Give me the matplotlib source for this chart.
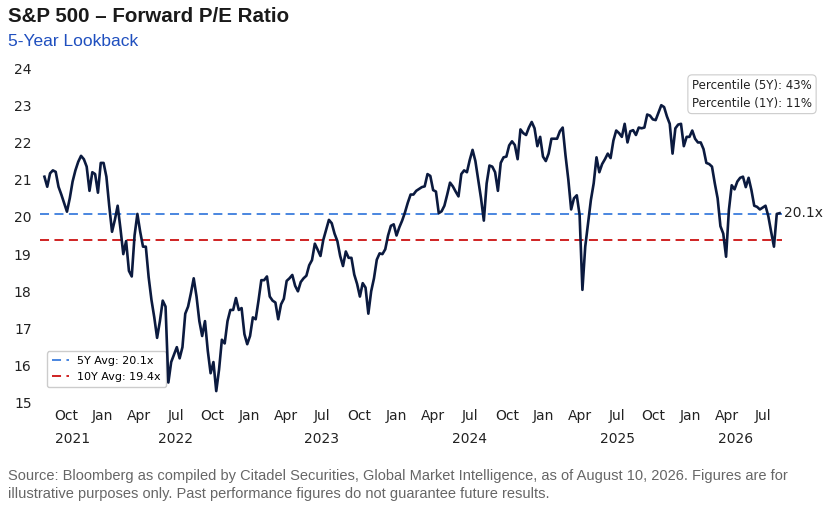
import matplotlib
matplotlib.use("Agg")
import matplotlib.pyplot as plt
import matplotlib.dates as mdates
import matplotlib.transforms as mtransforms
import numpy as np
import pandas as pd

# ---- data (weekly forward P/E) ----
pe_values = [
    21.08, 20.81, 21.17, 21.25, 21.21, 20.81, 20.60, 20.37, 20.14, 20.50,
    20.95, 21.25, 21.48, 21.64, 21.55, 21.35, 20.70, 21.20, 21.15, 20.65,
    21.45, 21.45, 21.08, 20.30, 19.60, 19.92, 20.30, 19.68, 19.00, 19.35,
    18.55, 18.40, 19.50, 20.08, 19.60, 19.20, 19.20, 18.38, 17.77, 17.30,
    16.75, 17.20, 17.75, 17.59, 15.55, 16.10, 16.30, 16.50, 16.20, 16.50,
    17.40, 17.59, 17.95, 18.35, 17.86, 17.20, 16.80, 17.20, 16.40, 15.80,
    16.10, 15.32, 15.90, 16.70, 16.60, 17.20, 17.50, 17.50, 17.82, 17.50,
    17.55, 16.85, 16.58, 16.80, 17.30, 17.25, 17.75, 18.30, 18.30, 18.40,
    17.86, 17.75, 17.70, 17.25, 17.65, 17.80, 18.28, 18.35, 18.44, 18.15,
    18.00, 18.25, 18.35, 18.42, 18.70, 18.84, 19.28, 19.12, 18.95, 19.38,
    19.65, 19.92, 19.83, 19.55, 19.35, 18.95, 18.68, 19.07, 18.90, 18.90,
    18.45, 18.20, 17.86, 18.22, 18.10, 17.40, 18.00, 18.35, 18.85, 19.02,
    19.00, 19.13, 19.50, 19.76, 19.80, 19.50, 19.72, 19.90, 20.12, 20.38,
    20.60, 20.60, 20.70, 20.75, 20.80, 20.82, 21.15, 21.10, 20.72, 20.68,
    20.10, 20.15, 20.30, 20.60, 20.92, 20.82, 20.68, 20.55, 21.15, 21.25,
    21.20, 21.53, 21.80, 21.50, 20.99, 20.50, 19.90, 20.90, 21.38, 21.35,
    21.20, 20.70, 21.45, 21.60, 21.62, 21.92, 22.03, 21.93, 21.55, 22.35,
    22.25, 22.20, 22.40, 22.55, 22.38, 21.90, 22.15, 21.62, 21.50, 21.70,
    22.10, 22.10, 22.10, 22.30, 22.40, 21.65, 21.00, 20.20, 20.50, 20.58,
    20.05, 18.04, 19.20, 19.83, 20.45, 20.90, 21.60, 21.20, 21.42, 21.55,
    21.70, 21.58, 22.05, 22.32, 22.25, 22.15, 22.50, 22.00, 22.30, 22.33,
    22.20, 22.40, 22.38, 22.40, 22.75, 22.72, 22.62, 22.60, 22.80, 23.00,
    22.95, 22.70, 22.50, 21.70, 22.38, 22.48, 22.50, 21.90, 22.15, 22.15,
    22.32, 22.10, 22.00, 22.00, 21.82, 21.45, 21.42, 21.35, 20.90, 20.50,
    19.75, 19.55, 18.93, 20.18, 20.85, 20.74, 20.95, 21.05, 21.08, 20.80,
    21.05, 20.72, 20.30, 20.27, 20.20, 20.25, 20.30, 20.02, 19.60, 19.20,
    20.08, 20.10,
]
end_date = "2026-08-10"
avg_5y = 20.1
avg_10y = 19.4
avg_5y_line = 20.08
avg_10y_line = 19.37
pct_5y = 43
pct_1y = 11
y_ticks = [15, 16, 17, 18, 19, 20, 21, 22, 23, 24]

dates = pd.date_range(end=end_date, periods=len(pe_values), freq="7D")
series = pd.Series(pe_values, index=dates)

# ---- figure ----
W, H = 823, 507
fig = plt.figure(figsize=(W / 100, H / 100), dpi=100)
fig.patch.set_facecolor("white")

ax_left, ax_right = 40 / W, 782 / W
ax_bottom, ax_top = (H - 403) / H, (H - 68) / H
ax = fig.add_axes([ax_left, ax_bottom, ax_right - ax_left, ax_top - ax_bottom])

navy = "#0b1a3f"
blue = "#3b7ddd"
red = "#cc1111"

ax.plot(series.index, series.values, color=navy, lw=1.9, zorder=3)
ax.axhline(avg_5y_line, color=blue, lw=1.3, ls=(0, (5, 3)), label=f"5Y Avg: {avg_5y:.1f}x", zorder=2)
ax.axhline(avg_10y_line, color=red, lw=1.3, ls=(0, (5, 3)), label=f"10Y Avg: {avg_10y:.1f}x", zorder=2)

x0 = series.index[0] - pd.Timedelta(days=11)
x1 = series.index[-1] + pd.Timedelta(days=6)
ax.set_xlim(x0, x1)
ax.set_ylim(15, 24)
ax.set_yticks(y_ticks)

for s in ax.spines.values():
    s.set_visible(False)
ax.tick_params(axis="both", length=0, labelsize=10, colors="#222222")
ax.tick_params(axis="y", pad=6)
ax.tick_params(axis="x", pad=4)

ax.xaxis.set_major_locator(mdates.MonthLocator(bymonth=[1, 4, 7, 10]))
ax.xaxis.set_major_formatter(mdates.DateFormatter("%b"))

# year labels centered on the visible part of each year
trans = mtransforms.blended_transform_factory(ax.transData, ax.transAxes)
for yr in sorted(set(series.index.year)):
    ys = series[series.index.year == yr].index
    start = max(pd.Timestamp(f"{yr}-01-01"), ys[0])
    stop = min(pd.Timestamp(f"{yr}-12-31"), ys[-1])
    mid = start + (stop - start) / 2
    ax.text(mdates.date2num(mid), -0.107, str(yr), transform=trans,
            ha="center", va="center", fontsize=10, color="#222222")

# last value label
ax.annotate(f"{series.values[-1]:.1f}x", xy=(series.index[-1], series.values[-1]),
            xytext=(3, 0), textcoords="offset points", ha="left", va="center",
            fontsize=10, color="#222222")

leg = ax.legend(loc="lower left", bbox_to_anchor=(0.009, 0.048), borderaxespad=0,
                fontsize=8, frameon=True, fancybox=True, handlelength=1.6,
                handletextpad=0.7, borderpad=0.45,
                edgecolor="#cccccc", framealpha=1)
leg.set_zorder(2.5)

fig.text(692 / W, 1 - 79 / H, f"Percentile (5Y): {pct_5y}%\nPercentile (1Y): {pct_1y}%",
         ha="left", va="top", fontsize=8.5, color="#222222", linespacing=1.45,
         bbox=dict(boxstyle="round,pad=0.35", fc="white", ec="#cccccc", lw=0.8))

# titles and footer
fig.text(8 / W, 1 - 16 / H, "S&P 500 \u2013 Forward P/E Ratio", ha="left", va="center",
         fontsize=14.8, fontweight="bold", family="Liberation Sans", color="#1a1a1a")
fig.text(8 / W, 1 - 41 / H, "5-Year Lookback", ha="left", va="center",
         fontsize=12.5, family="Liberation Sans", color="#1f4fbf")
fig.text(8 / W, 1 - 485 / H,
         "Source: Bloomberg as compiled by Citadel Securities, Global Market Intelligence, as of August 10, 2026. Figures are for\n"
         "illustrative purposes only. Past performance figures do not guarantee future results.",
         ha="left", va="center", fontsize=10.5, family="Liberation Sans", color="#666666",
         linespacing=1.3)

fig.savefig("out.png", dpi=100, facecolor="white")
